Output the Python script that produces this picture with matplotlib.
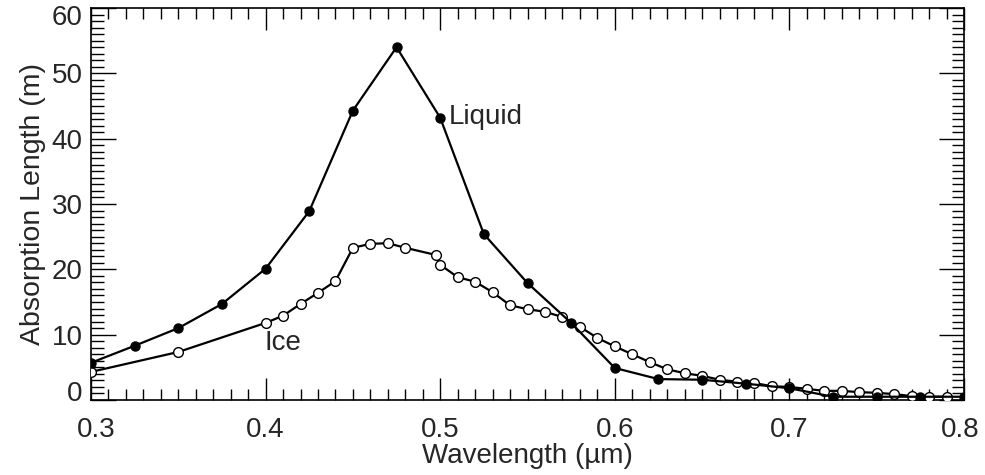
import matplotlib
matplotlib.use("Agg")
import matplotlib.pyplot as plt
import matplotlib.transforms as mtransforms
from matplotlib.ticker import MultipleLocator

# ---- data ----
liquid_wl = [0.300, 0.325, 0.350, 0.375, 0.400, 0.425, 0.450, 0.475, 0.500,
             0.525, 0.550, 0.575, 0.600, 0.625, 0.650, 0.675, 0.700, 0.725,
             0.750, 0.775, 0.800]
liquid_len = [5.7, 8.3, 11.0, 14.7, 20.1, 28.9, 44.3, 54.0, 43.2,
              25.4, 17.9, 11.8, 4.9, 3.2, 3.1, 2.5, 1.8, 0.5,
              0.5, 0.5, 0.5]

ice_wl = [0.30, 0.35, 0.40, 0.41, 0.42, 0.43, 0.44, 0.45, 0.46, 0.47, 0.48,
          0.4975, 0.50, 0.51, 0.52, 0.53, 0.54, 0.55, 0.56, 0.57, 0.58, 0.59,
          0.60, 0.61, 0.62, 0.63, 0.64, 0.65, 0.66, 0.67, 0.68, 0.69, 0.70,
          0.71, 0.72, 0.73, 0.74, 0.75, 0.76, 0.77, 0.78, 0.79]
ice_len = [4.3, 7.35, 11.8, 12.9, 14.7, 16.4, 18.2, 23.3, 23.9, 24.0, 23.3,
           22.2, 20.7, 18.8, 18.1, 16.5, 14.5, 13.9, 13.5, 12.7, 11.2, 9.5,
           8.2, 7.0, 5.8, 4.7, 4.1, 3.7, 3.1, 2.8, 2.6, 2.1, 2.0,
           1.7, 1.4, 1.4, 1.2, 1.1, 0.9, 0.6, 0.5, 0.5]

x_ticks = [0.3, 0.4, 0.5, 0.6, 0.7, 0.8]
x_tick_labels = ["0.3", "0.4", "0.5", "0.6", "0.7", "0.8"]
y_ticks = [0, 10, 20, 30, 40, 50, 60]
y_tick_labels = ["0", "10", "20", "30", "40", "50", "60"]

text_color = "#262626"
plt.rcParams['font.family'] = ['Liberation Sans', 'DejaVu Sans']

fig = plt.figure(figsize=(9.85, 4.75), dpi=100)
ax = fig.add_axes([91/985, 1 - 400/475, (964 - 91)/985, (400 - 8)/475])

ax.plot(ice_wl, ice_len, color="black", lw=1.6, marker="o", ms=7,
        mfc="white", mec="black", mew=1.0, zorder=3)
ax.plot(liquid_wl, liquid_len, color="black", lw=1.6, marker="o", ms=6.5,
        mfc="black", mec="black", zorder=4)

ax.set_xlim(0.3, 0.8)
ax.set_ylim(0, 60)
ax.set_xticks(x_ticks)
ax.set_xticklabels(x_tick_labels)
ax.set_yticks(y_ticks)
ax.set_yticklabels(y_tick_labels)
ax.xaxis.set_minor_locator(MultipleLocator(0.01))
ax.yaxis.set_minor_locator(MultipleLocator(1))

ax.tick_params(which="both", direction="in", top=True, right=True,
               width=1.0, colors="black", labelcolor=text_color,
               labelsize=20)
ax.tick_params(axis="x", which="major", length=16, pad=12)
ax.tick_params(axis="x", which="minor", length=8)
ax.tick_params(axis="y", which="major", length=18, pad=6)
ax.tick_params(axis="y", which="minor", length=9)

for sp in ax.spines.values():
    sp.set_linewidth(1.2)

ax.set_xlabel("Wavelength (\u00b5m)", fontsize=20, color=text_color, labelpad=0)
ax.set_ylabel("Absorption Length (m)", fontsize=20.5, color=text_color, labelpad=4)

# end tick labels nudged inward as in the reference
ylabs = ax.get_yticklabels()
ylabs[0].set_transform(ylabs[0].get_transform() +
                       mtransforms.ScaledTranslation(0, 9/100, fig.dpi_scale_trans))
ylabs[-1].set_transform(ylabs[-1].get_transform() +
                        mtransforms.ScaledTranslation(0, -7/100, fig.dpi_scale_trans))
xlabs = ax.get_xticklabels()
xlabs[0].set_transform(xlabs[0].get_transform() +
                       mtransforms.ScaledTranslation(5/100, 0, fig.dpi_scale_trans))
xlabs[-1].set_transform(xlabs[-1].get_transform() +
                        mtransforms.ScaledTranslation(-4/100, 0, fig.dpi_scale_trans))

ax.text(0.5048, 43.3, "Liquid", fontsize=20, color=text_color, va="center", ha="left")
ax.text(0.3995, 8.8, "Ice", fontsize=20, color=text_color, va="center", ha="left")

fig.savefig("out.png", dpi=100)
